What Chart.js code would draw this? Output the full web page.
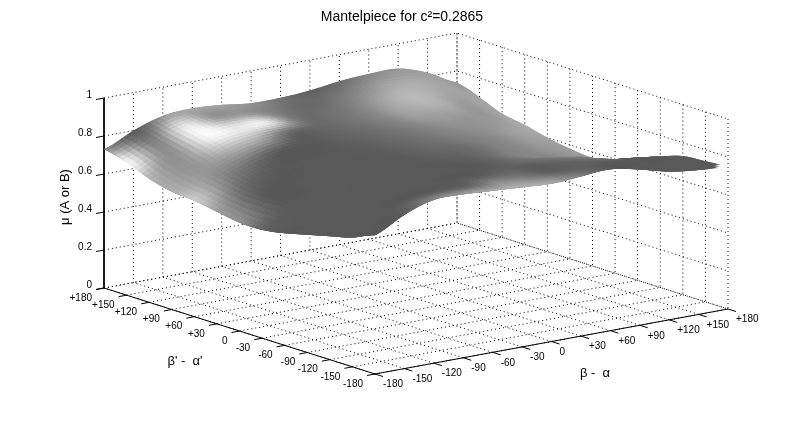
<!DOCTYPE html>
<html><head><meta charset="utf-8">
<style>html,body{margin:0;padding:0;background:#fff}canvas{display:block}</style>
<script src="https://cdn.jsdelivr.net/npm/chart.js@4/dist/chart.umd.min.js"></script>
</head><body><canvas id="c" width="804" height="421"></canvas>
<script>
const titleText = "Mantelpiece for c\u00B2=0.2865";
const betaTicks = [-180,-150,-120,-90,-60,-30,0,30,60,90,120,150,180];
const betaPrimeTicks = [-180,-150,-120,-90,-60,-30,0,30,60,90,120,150,180];
const angleLabels = ["-180","-150","-120","-90","-60","-30","0","+30","+60","+90","+120","+150","+180"];
const muTicks = [0,0.2,0.4,0.6,0.8,1];
const muLabels = ["0","0.2","0.4","0.6","0.8","1"];
// rows: beta' from -180 to +180, columns: beta from -180 to +180
const muGrid = [
[.73,.81,.86,.86,.85,.84,.83,.84,.85,.82,.78,.76,.75],
[.68,.78,.83,.84,.84,.83,.83,.83,.84,.82,.79,.76,.74],
[.65,.74,.80,.82,.83,.82,.82,.82,.82,.80,.77,.75,.73],
[.62,.71,.77,.80,.81,.81,.81,.80,.79,.77,.73,.71,.69],
[.59,.69,.75,.78,.80,.80,.79,.78,.76,.73,.71,.65,.64],
[.57,.68,.74,.77,.79,.79,.78,.76,.73,.70,.67,.63,.60],
[.57,.67,.73,.77,.78,.79,.78,.76,.73,.70,.66,.62,.57],
[.59,.67,.73,.77,.79,.80,.79,.78,.75,.71,.67,.63,.58],
[.61,.69,.75,.79,.80,.81,.81,.80,.77,.73,.69,.65,.60],
[.62,.71,.78,.81,.82,.82,.82,.82,.80,.77,.72,.68,.63],
[.65,.74,.81,.83,.83,.82,.83,.83,.83,.81,.76,.70,.65],
[.70,.77,.83,.85,.84,.83,.83,.84,.85,.84,.82,.76,.70],
[.73,.80,.85,.86,.85,.83,.83,.84,.86,.87,.87,.82,.74]];
const shadeGrid = [
[90,90,130,150,170,175,170,130,90,90,90,90,90],
[90,90,90,95,100,140,120,95,95,90,90,90,90],
[90,90,90,90,90,92,100,92,105,115,90,90,90],
[90,90,90,90,90,90,90,105,115,125,100,90,90],
[90,90,90,90,90,90,92,100,125,130,145,90,90],
[100,90,90,90,90,90,95,100,115,135,135,140,90],
[145,90,90,90,90,92,100,105,110,130,140,150,150],
[160,105,90,90,90,95,105,115,125,130,140,155,155],
[205,135,110,90,90,100,110,125,135,140,145,160,165],
[175,150,175,170,108,105,115,135,160,160,150,155,170],
[180,145,245,235,235,120,112,130,165,185,175,150,165],
[250,130,235,150,150,125,105,115,140,170,175,165,165],
[130,92,150,165,160,145,115,95,110,135,150,160,150]];

// orthographic view of the box
const FRONT={x:375,y:374}, UAX={x:353,y:-65}, VAX={x:-271,y:-86}, ZH=190, TOP=27.8, SUB=6, TIP_END=717;
const proj=(b,bp,m)=>{const u=(b+180)/360,v=(bp+180)/360;
  return {x:FRONT.x+u*UAX.x+v*VAX.x,y:FRONT.y+u*UAX.y+v*VAX.y-ZH*m};};
const cr=(p0,p1,p2,p3,t)=>0.5*((2*p1)+(-p0+p2)*t+(2*p0-5*p1+4*p2-p3)*t*t+(-p0+3*p1-3*p2+p3)*t*t*t);
function sample(g,j,i,tj,ti){const n=g.length-1,c=k=>Math.max(0,Math.min(n,k)),r=[];
  for(let a=-1;a<=2;a++){const row=g[c(j+a)];r.push(cr(row[c(i-1)],row[c(i)],row[c(i+1)],row[c(i+2)],ti));}
  return cr(r[0],r[1],r[2],r[3],tj);}
const datasets=[];
// surface, nearest facet first (first dataset is painted last)
const N=muGrid.length-1;
const vert=(J,I)=>{J=Math.max(0,J);I=Math.max(0,I);
  const j=Math.min(Math.floor(J/SUB),N-1),i=Math.min(Math.floor(I/SUB),N-1);
  const tj=J/SUB-j,ti=I/SUB-i;
  return {p:proj(-180+I/SUB*30,-180+J/SUB*30,sample(muGrid,j,i,tj,ti)),s:sample(shadeGrid,j,i,tj,ti)};};
for(let s=0;s<=2*N*SUB-2;s++){
  for(let J=0;J<N*SUB;J++){const I=s-J;if(I<0||I>=N*SUB)continue;
    const a=vert(J,I),b=vert(J,I+1),c=vert(J+1,I+1),d=vert(J+1,I);
    if(b.p.x>TIP_END) continue;
    const g=Math.round(Math.max(88,Math.min(250,(a.s+b.s+c.s+d.s)/4)));
    const col=`rgb(${g},${g},${g})`;
    // facet runs on under its nearer neighbours, which paint over it: no seams
    const a2=vert(J-1,I-1),b2=vert(J-1,I+1),d2=vert(J+1,I-1);
    datasets.push({data:[a2.p,b2.p,c.p,d2.p,a2.p],showLine:true,fill:'shape',backgroundColor:col,borderColor:col,borderWidth:0,pointRadius:0,tension:0,clip:false});
  }
}
const line=(pts,dash,w)=>datasets.push({data:pts,showLine:true,fill:false,borderColor:'#000',borderWidth:w||1,borderDash:dash||[],pointRadius:0,tension:0,clip:false});
// tick marks and solid axes
const TK={x:-8,y:1.5},TK2={x:8,y:2.5};
line([proj(-180,180,1),proj(-180,180,0),proj(-180,-180,0),proj(180,-180,0)]);
betaTicks.forEach(b=>{const p=proj(b,-180,0);line([p,{x:p.x+TK2.x,y:p.y+TK2.y}]);});
betaPrimeTicks.forEach(b=>{const p=proj(-180,b,0);line([p,{x:p.x+TK.x,y:p.y+TK.y}]);});
muTicks.forEach(m=>{const p=proj(-180,180,m);line([p,{x:p.x+TK.x,y:p.y+TK.y}]);});
// dotted box grid
const DOT=[1,3];
betaTicks.forEach(b=>line([proj(b,-180,0),proj(b,180,0),proj(b,180,1)],DOT));
betaPrimeTicks.forEach(b=>line([proj(-180,b,0),proj(180,b,0),proj(180,b,1)],DOT));
muTicks.forEach(m=>line([proj(-180,180,m),proj(180,180,m),proj(180,-180,m)],DOT));

const textPlugin={id:'axisText',afterDraw(ch){
  const c=ch.ctx,sx=ch.scales.x,sy=ch.scales.y;
  const at=(p,dx,dy)=>({x:sx.getPixelForValue(p.x)+dx,y:sy.getPixelForValue(p.y)+dy});
  c.save();c.fillStyle='#000';c.textBaseline='middle';c.font='10px "Liberation Sans"';
  c.textAlign='right';
  betaPrimeTicks.forEach((b,k)=>{const q=at(proj(-180,b,0),-12,10);c.fillText(angleLabels[k],q.x,q.y);});
  muTicks.forEach((m,k)=>{const q=at(proj(-180,180,m),-12,-2.5);c.fillText(muLabels[k],q.x,q.y);});
  c.textAlign='left';
  betaTicks.forEach((b,k)=>{const q=at(proj(b,-180,0),8,10.5);c.fillText(angleLabels[k],q.x,q.y);});
  c.textAlign='center';c.font='13px "Liberation Sans"';
  c.fillText("\u03B2' -  \u03B1'",185,361);
  c.fillText("\u03B2 -  \u03B1",595,373);
  c.translate(65,197);c.rotate(-Math.PI/2);c.fillText("\u03BC (A or B)",0,0);
  c.restore();
}};
new Chart(document.getElementById('c'),{type:'scatter',data:{datasets},plugins:[textPlugin],options:{
  responsive:false,animation:false,events:[],parsing:false,normalized:true,
  layout:{padding:0},
  plugins:{legend:{display:false},tooltip:{enabled:false},
    title:{display:true,text:titleText,color:'#000',font:{family:'"Liberation Sans"',size:14,weight:'normal'},padding:{top:9,bottom:2}},
    filler:{propagate:false}},
  scales:{x:{type:'linear',display:false,min:0,max:804},y:{type:'linear',display:false,min:TOP,max:421,reverse:true}}
}});
</script></body></html>
